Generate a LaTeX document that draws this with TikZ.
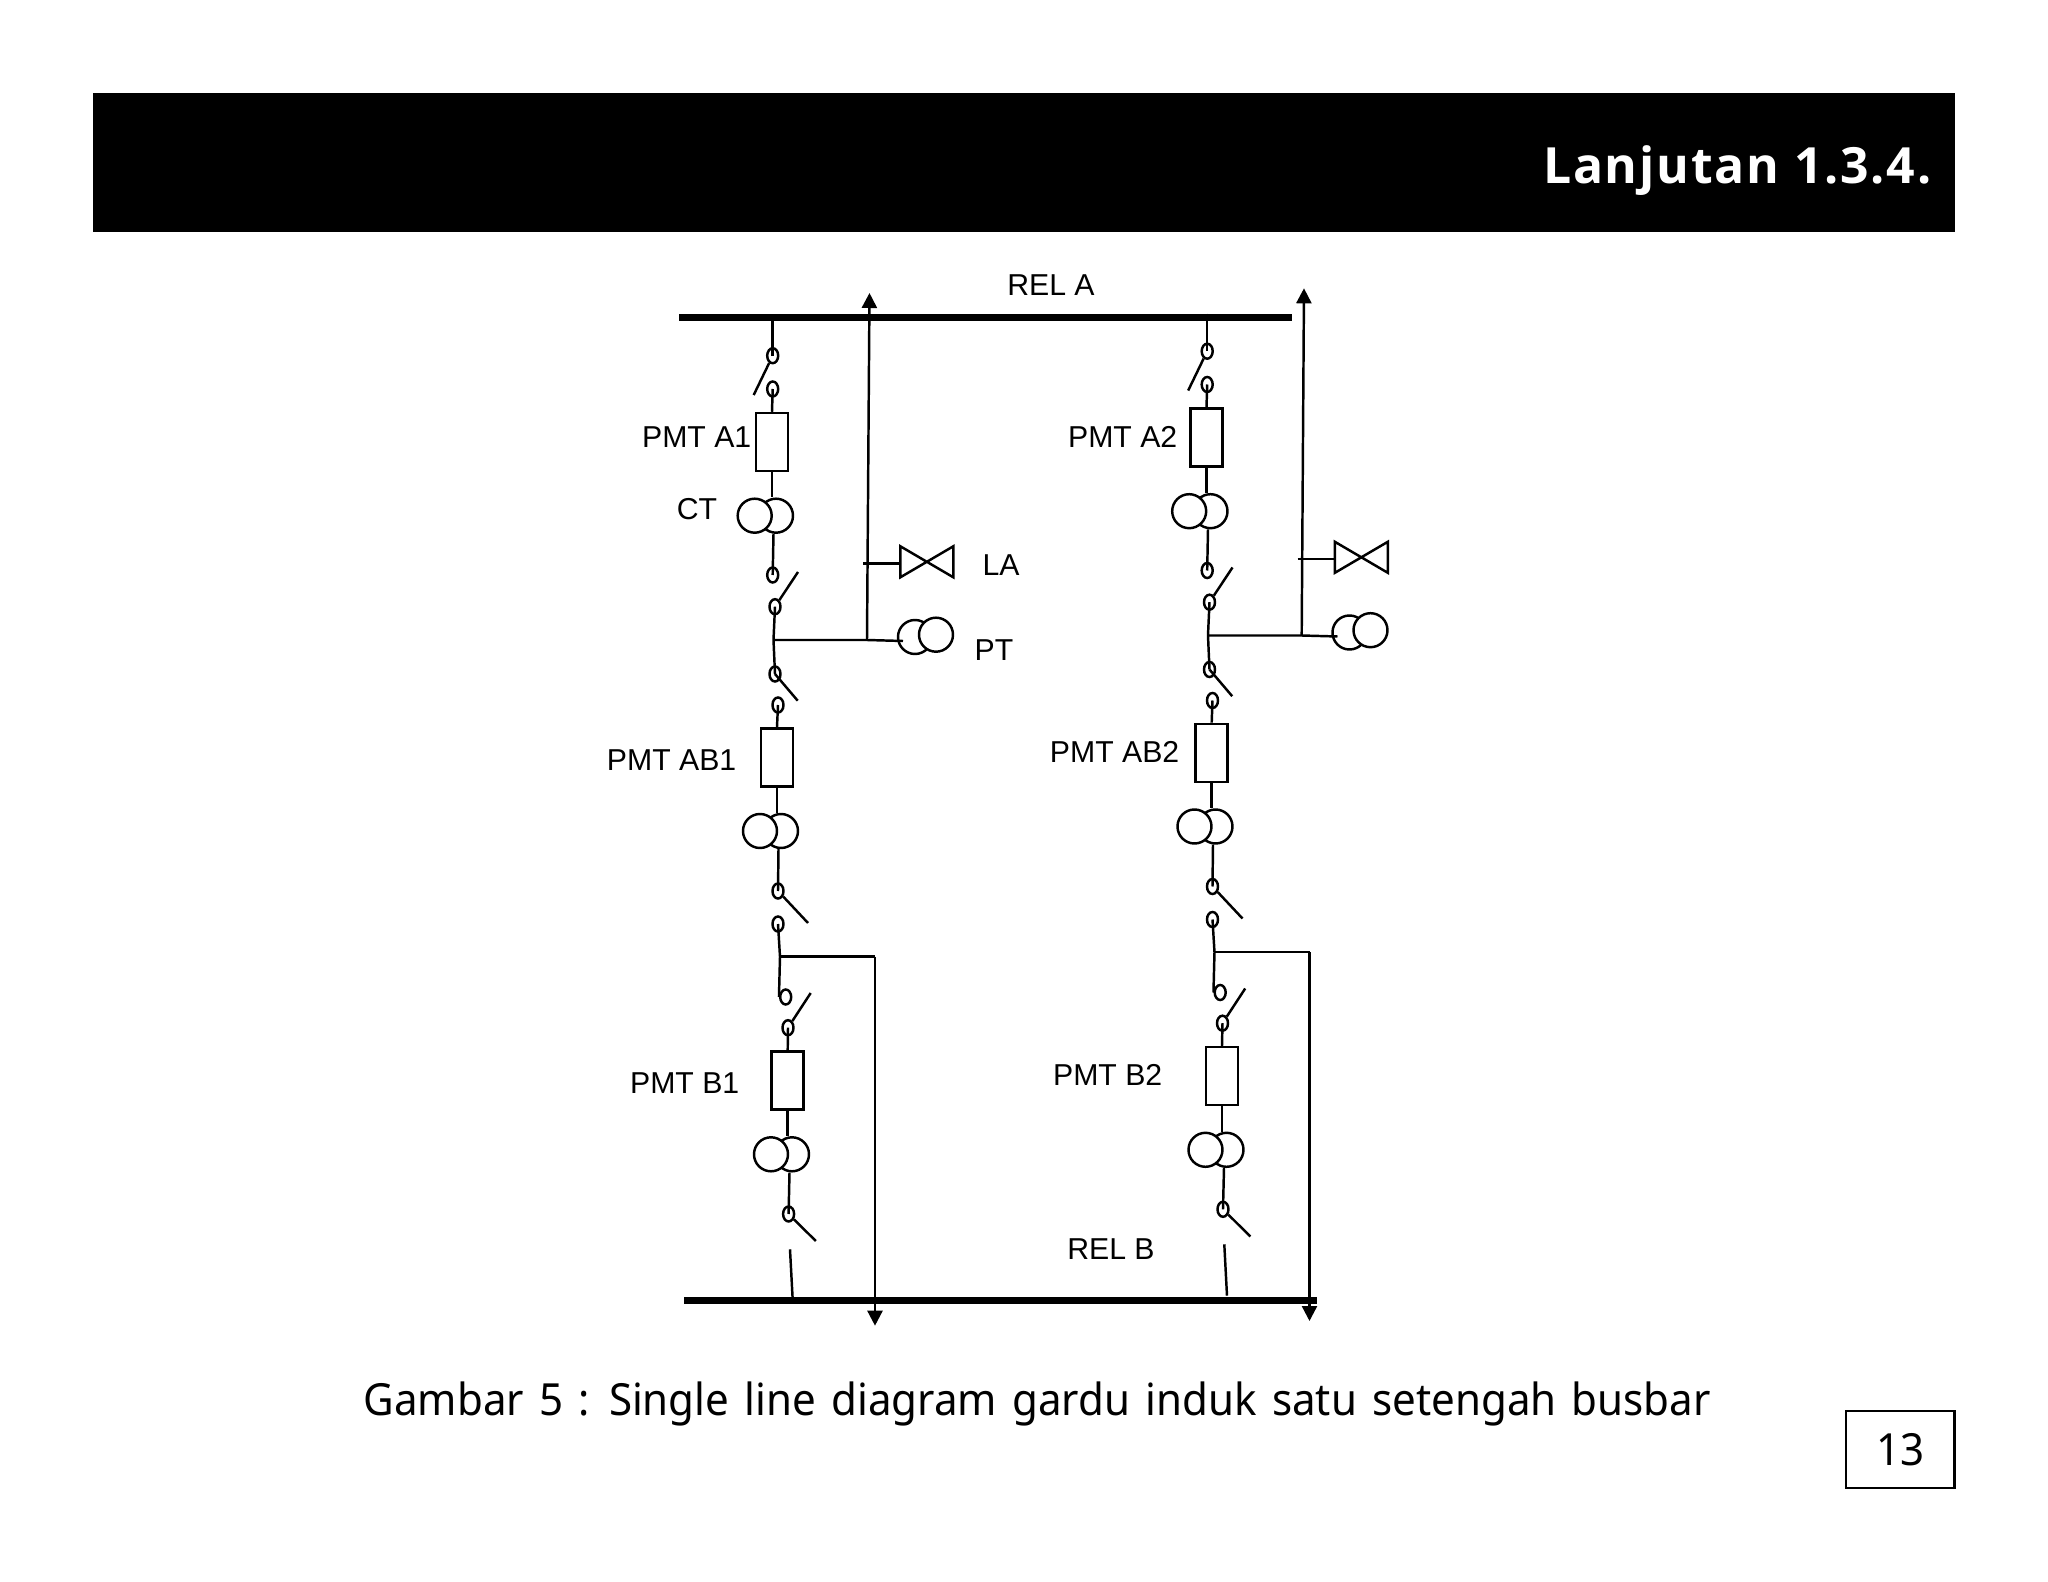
\documentclass[tikz,border=0pt]{standalone}
\usepackage{fontspec}
\setmainfont{Liberation Sans}
\newfontfamily\slidefont[FakeStretch=0.95, WordSpace=1.4]{Noto Sans}
\newfontfamily\titlefont[LetterSpace=3.6]{Open Sans}
\usetikzlibrary{shapes, arrows.meta, positioning}
\tikzset{
  wire/.style={line width=0.7pt},
  bus/.style={fill=black, inner sep=0pt, minimum height=0.065cm},
  feeder/.style={wire, -{Triangle[length=0.15cm, width=0.15cm]}},
  contact/.style={ellipse, draw, line width=0.7pt, inner sep=0pt, minimum width=0.11cm, minimum height=0.15cm},
  breaker/.style={rectangle, draw, line width=0.7pt, inner sep=0pt, minimum width=0.32cm, minimum height=0.58cm},
  coil/.style={circle, draw, fill=white, line width=0.7pt, inner sep=0pt, minimum size=0.34cm},
  arrester/.style={rectangle, inner sep=0pt, minimum width=0.517cm, minimum height=0.297cm},
  tag/.style={font=\fontsize{8.6}{10}\selectfont, inner sep=0pt}
}
\begin{document}
\begin{tikzpicture}
  \useasboundingbox (0, 0) rectangle (20.48, -15.82);

  % Header and footer
  \fill[black] (0.93, -0.93) rectangle (19.55, -2.32);
  \node[anchor=base east, inner sep=0pt, text=white, font=\titlefont\bfseries\fontsize{14.2}{17}\selectfont] (title) at (19.32, -1.833) {Lanjutan 1.3.4.};
  \node[anchor=base west, inner sep=0pt, font=\slidefont\fontsize{12.6}{15}\selectfont] (caption) at (3.63, -14.15) {Gambar 5 : Single line diagram gardu induk satu setengah busbar};
  \node[draw, line width=0.7pt, inner sep=0pt, minimum width=1.087cm, minimum height=0.77cm, font=\slidefont\fontsize{12.6}{15}\selectfont] (page) at (19.003, -14.495) {\raisebox{-0.06cm}{13}};

  % Busbars
  \node[bus, minimum width=6.13cm] (relA) at (9.855, -3.175) {};
  \node[bus, minimum width=6.33cm] (relB) at (10.005, -13.005) {};
  \node[tag] (relAtag) at (10.51, -2.85) {REL A};
  \node[tag] (relBtag) at (11.11, -12.49) {REL B};

  % Bay 1: contacts
  \node[contact] (ds1a) at (7.727, -3.557) {};
  \node[contact] (ds1b) at (7.727, -3.89) {};
  \node[contact] (ds1c) at (7.727, -5.75) {};
  \node[contact] (ds1d) at (7.75, -6.067) {};
  \node[contact] (ds1e) at (7.75, -6.74) {};
  \node[contact] (ds1f) at (7.78, -7.05) {};
  \node[contact] (ds1g) at (7.78, -8.91) {};
  \node[contact] (ds1h) at (7.78, -9.24) {};
  \node[contact] (ds1i) at (7.857, -9.97) {};
  \node[contact] (ds1j) at (7.88, -10.277) {};
  \node[contact] (ds1k) at (7.886, -12.14) {};

  % Bay 1: switch blades
  \coordinate (bl1a) at (7.537, -3.95);
  \coordinate (bl1d) at (7.98, -5.72);
  \coordinate (bl1e) at (7.977, -7.007);
  \coordinate (bl1g) at (8.08, -9.23);
  \coordinate (bl1j) at (8.107, -9.93);
  \coordinate (bl1k) at (8.158, -12.41);
  \draw[wire] (ds1a) -- (bl1a);
  \draw[wire] (ds1d) -- (bl1d);
  \draw[wire] (ds1e.center) -- (bl1e);
  \draw[wire] (ds1g) -- (bl1g);
  \draw[wire] (ds1j) -- (bl1j);
  \draw[wire] (ds1k) -- (bl1k);

  % Bay 1: breakers and CT
  \node[breaker] (pmtA1) at (7.72, -4.42) {};
  \node[breaker] (pmtAB1) at (7.77, -7.573) {};
  \node[breaker] (pmtB1) at (7.877, -10.805) {};
  \node[tag, anchor=east] (pmtA1tag) at (7.52, -4.37) {PMT A1};
  \node[tag, anchor=east] (pmtAB1tag) at (7.37, -7.60) {PMT AB1};
  \node[tag, anchor=east] (pmtB1tag) at (7.40, -10.83) {PMT B1};
  \node[tag] (cttag) at (6.97, -5.09) {CT};
  \node[coil] (ctA1r) at (7.76, -5.157) {};
  \node[coil] (ctA1l) at (7.547, -5.157) {};
  \node[coil] (ctAB1r) at (7.81, -8.31) {};
  \node[coil] (ctAB1l) at (7.60, -8.31) {};
  \node[coil] (ctB1r) at (7.92, -11.543) {};
  \node[coil] (ctB1l) at (7.71, -11.543) {};

  % Bay 1: vertical wires
  \coordinate (tee1a) at (7.735, -6.40);
  \coordinate (tee1b) at (7.80, -9.567);
  \coordinate (stub1a) at (7.90, -12.493);
  \coordinate (stub1b) at (7.926, -12.98);
  \draw[wire] (ds1a.center |- relA.south) -- (ds1a.center);
  \draw[wire] (ds1b.center) -- (pmtA1.north);
  \draw[wire] (pmtA1.south) -- (pmtA1.south |- ctA1r.north);
  \draw[wire] ([xshift=-0.025cm]ctA1r.south) -- (ds1c.center);
  \draw[wire] (ds1d.center) -- (tee1a) -- (ds1e.center);
  \draw[wire] (ds1f.center) -- (pmtAB1.north);
  \draw[wire] (pmtAB1.south) -- (pmtAB1.south |- ctAB1r.north);
  \draw[wire] ([xshift=-0.025cm]ctAB1r.south) -- (ds1g.center);
  \draw[wire] (ds1h.center) -- (tee1b) -- (ds1i.west);
  \draw[wire] (ds1j.center) -- (pmtB1.north);
  \draw[wire] (pmtB1.south) -- (pmtB1.south |- ctB1r.north);
  \draw[wire] ([xshift=-0.025cm]ctB1r.south) -- (ds1k.center);
  \draw[wire] (stub1a) -- (stub1b);

  % Bay 1: line outlets, LA and PT
  \node[coil] (pt1l) at (9.15, -6.37) {};
  \node[coil] (pt1r) at (9.36, -6.347) {};
  \node[arrester] (la1) at (9.2685, -5.618) {};
  \draw[wire] (la1.north west) -- (la1.south west) -- (la1.north east) -- (la1.south east) -- cycle;
  \node[tag] (latag) at (10.01, -5.65) {LA};
  \node[tag] (pttag) at (9.94, -6.50) {PT};
  \coordinate (feed1a) at (8.67, -6.40);
  \coordinate (tip1a) at (8.695, -2.93);
  \coordinate (pin1) at (9.03, -6.41);
  \coordinate (lastub1) at (8.63, -5.637);
  \coordinate (feed1b) at (8.75, -9.567);
  \coordinate (tip1b) at (8.75, -13.257);
  \draw[feeder] (feed1a) -- (tip1a);
  \draw[wire] (tee1a) -- (feed1a) -- (pin1);
  \draw[wire] (lastub1) -- (lastub1 -| la1.west);
  \draw[wire] (tee1b) -- (feed1b);
  \draw[feeder] (feed1b) -- (tip1b);

  % Bay 2: contacts
  \node[contact] (ds2a) at (12.072, -3.512) {};
  \node[contact] (ds2b) at (12.072, -3.845) {};
  \node[contact] (ds2c) at (12.072, -5.705) {};
  \node[contact] (ds2d) at (12.095, -6.022) {};
  \node[contact] (ds2e) at (12.095, -6.695) {};
  \node[contact] (ds2f) at (12.125, -7.005) {};
  \node[contact] (ds2g) at (12.125, -8.865) {};
  \node[contact] (ds2h) at (12.125, -9.195) {};
  \node[contact] (ds2i) at (12.202, -9.925) {};
  \node[contact] (ds2j) at (12.225, -10.232) {};
  \node[contact] (ds2k) at (12.23, -12.093) {};

  % Bay 2: switch blades
  \coordinate (bl2a) at (11.882, -3.905);
  \coordinate (bl2d) at (12.325, -5.675);
  \coordinate (bl2e) at (12.322, -6.962);
  \coordinate (bl2g) at (12.425, -9.185);
  \coordinate (bl2j) at (12.452, -9.885);
  \coordinate (bl2k) at (12.503, -12.365);
  \draw[wire] (ds2a) -- (bl2a);
  \draw[wire] (ds2d) -- (bl2d);
  \draw[wire] (ds2e.center) -- (bl2e);
  \draw[wire] (ds2g) -- (bl2g);
  \draw[wire] (ds2j) -- (bl2j);
  \draw[wire] (ds2k) -- (bl2k);

  % Bay 2: breakers and CT
  \node[breaker] (pmtA2) at (12.065, -4.377) {};
  \node[breaker] (pmtAB2) at (12.117, -7.528) {};
  \node[breaker] (pmtB2) at (12.22, -10.762) {};
  \node[tag, anchor=east] (pmtA2tag) at (11.78, -4.37) {PMT A2};
  \node[tag, anchor=east] (pmtAB2tag) at (11.80, -7.52) {PMT AB2};
  \node[tag, anchor=east] (pmtB2tag) at (11.63, -10.75) {PMT B2};
  \node[coil] (ctA2r) at (12.105, -5.112) {};
  \node[coil] (ctA2l) at (11.892, -5.112) {};
  \node[coil] (ctAB2r) at (12.155, -8.265) {};
  \node[coil] (ctAB2l) at (11.945, -8.265) {};
  \node[coil] (ctB2r) at (12.265, -11.498) {};
  \node[coil] (ctB2l) at (12.055, -11.498) {};

  % Bay 2: vertical wires
  \coordinate (tee2a) at (12.08, -6.355);
  \coordinate (tee2b) at (12.145, -9.522);
  \coordinate (stub2a) at (12.243, -12.443);
  \coordinate (stub2b) at (12.27, -12.957);
  \draw[wire] (ds2a.center |- relA.north) -- (ds2a.center);
  \draw[wire] (ds2b.center) -- (pmtA2.north);
  \draw[wire] (pmtA2.south) -- (pmtA2.south |- ctA2r.north);
  \draw[wire] ([xshift=-0.025cm]ctA2r.south) -- (ds2c.center);
  \draw[wire] (ds2d.center) -- (tee2a) -- (ds2e.center);
  \draw[wire] (ds2f.center) -- (pmtAB2.north);
  \draw[wire] (pmtAB2.south) -- (pmtAB2.south |- ctAB2r.north);
  \draw[wire] ([xshift=-0.025cm]ctAB2r.south) -- (ds2g.center);
  \draw[wire] (ds2h.center) -- (tee2b) -- (ds2i.west);
  \draw[wire] (ds2j.center) -- (pmtB2.north);
  \draw[wire] (pmtB2.south) -- (pmtB2.south |- ctB2r.north);
  \draw[wire] ([xshift=-0.025cm]ctB2r.south) -- (ds2k.center);
  \draw[wire] (stub2a) -- (stub2b);

  % Bay 2: line outlets, LA and PT
  \node[coil] (pt2l) at (13.495, -6.325) {};
  \node[coil] (pt2r) at (13.705, -6.302) {};
  \node[arrester] (la2) at (13.6135, -5.573) {};
  \draw[wire] (la2.north west) -- (la2.south west) -- (la2.north east) -- (la2.south east) -- cycle;
  \coordinate (feed2a) at (13.017, -6.355);
  \coordinate (tip2a) at (13.04, -2.883);
  \coordinate (pin2) at (13.375, -6.365);
  \coordinate (lastub2) at (12.975, -5.592);
  \coordinate (feed2b) at (13.095, -9.522);
  \coordinate (tip2b) at (13.095, -13.21);
  \draw[feeder] (feed2a) -- (tip2a);
  \draw[wire] (tee2a) -- (feed2a) -- (pin2);
  \draw[wire] (lastub2) -- (lastub2 -| la2.west);
  \draw[wire] (tee2b) -- (feed2b);
  \draw[feeder] (feed2b) -- (tip2b);
\end{tikzpicture}
\end{document}
